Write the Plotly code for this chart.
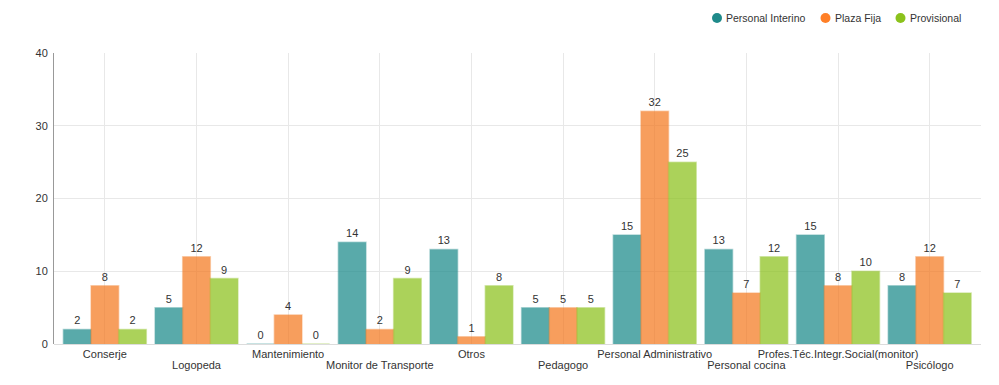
import plotly.graph_objects as go

categories = ["Conserje", "Logopeda", "Mantenimiento", "Monitor de Transporte", "Otros",
              "Pedagogo", "Personal Administrativo", "Personal cocina",
              "Profes.Téc.Integr.Social(monitor)", "Psicólogo"]
interino = [2, 5, 0, 14, 13, 5, 15, 13, 15, 8]
plaza_fija = [8, 12, 4, 2, 1, 5, 32, 7, 8, 12]
provisional = [2, 9, 0, 9, 8, 5, 25, 12, 10, 7]
series_names = ["Personal Interino", "Plaza Fija", "Provisional"]
series_values = [interino, plaza_fija, provisional]
y_ticks = [0, 10, 20, 30, 40]

colors = ["#1a8a8a", "#f47920", "#8bc21c"]
edge_colors = ["rgba(26,138,138,0.45)", "rgba(244,121,32,0.45)", "rgba(139,194,28,0.45)"]
legend_colors = ["#1f8a8a", "#ff7f27", "#8bc21c"]

W, H = 999, 385
ML, MR, MT, MB = 54, 18, 53, 41

xpos = list(range(len(categories)))
fig = go.Figure()
for name, vals, c, ec in zip(series_names, series_values, colors, edge_colors):
    fig.add_trace(go.Bar(
        x=xpos, y=vals, name=name, showlegend=False,
        marker=dict(color=c, opacity=0.72, line=dict(color=ec, width=1.5)),
        text=[str(v) for v in vals], textposition="outside",
        textfont=dict(size=11, color="#333"), cliponaxis=False,
        hoverinfo="skip",
    ))
fig.add_trace(go.Scatter(x=[None], y=[None], xaxis="x2", showlegend=False))

# custom legend (circle + text) in pixel-based paper coordinates
pw, ph = W - ML - MR, H - MT - MB
legend_circle_x = [717, 825.5, 900.5]
legend_y = 18
shapes = []
annotations = []
for name, c, cx in zip(series_names, legend_colors, legend_circle_x):
    r = 5
    shapes.append(dict(type="circle", xref="paper", yref="paper",
                       x0=(cx - r - ML) / pw, x1=(cx + r - ML) / pw,
                       y0=(H - MB - (legend_y + r)) / ph, y1=(H - MB - (legend_y - r)) / ph,
                       fillcolor=c, line=dict(width=0)))
    annotations.append(dict(text=name, xref="paper", yref="paper",
                            x=(cx + 7 - ML) / pw, y=(H - MB - legend_y) / ph,
                            xanchor="left", yanchor="middle", showarrow=False,
                            font=dict(size=10.5, color="#333")))

rng = [-0.555, len(categories) - 1 + 0.56]
even_text = [c if i % 2 == 0 else "" for i, c in enumerate(categories)]
odd_vals = [i for i in xpos if i % 2 == 1]
odd_text = [categories[i] for i in odd_vals]

fig.update_layout(
    width=W, height=H,
    margin=dict(l=ML, r=MR, t=MT, b=MB, autoexpand=False),
    paper_bgcolor="white", plot_bgcolor="white",
    font=dict(family="Liberation Sans, Arial, sans-serif", size=11, color="#333"),
    barmode="group", bargap=0.095, bargroupgap=0,
    showlegend=False,
    shapes=shapes, annotations=annotations,
    xaxis=dict(range=rng, tickmode="array", tickvals=xpos, ticktext=even_text,
               showgrid=True, gridcolor="#e8e8e8", gridwidth=1, zeroline=False,
               showline=False, ticks="", tickfont=dict(size=11, color="#333"),
               ticklabelstandoff=2, automargin=False),
    xaxis2=dict(range=rng, overlaying="x", side="bottom", tickmode="array",
                tickvals=odd_vals, ticktext=odd_text, showgrid=False, zeroline=False,
                showline=False, ticks="", tickfont=dict(size=11, color="#333"),
                ticklabelstandoff=13, automargin=False),
    yaxis=dict(range=[0, 40], tickmode="array", tickvals=y_ticks,
               showgrid=True, gridcolor="#e8e8e8", zeroline=True, zerolinecolor="#dcdcdc",
               zerolinewidth=1, showline=True, linecolor="#999", linewidth=1,
               ticks="", tickfont=dict(size=11, color="#333"), ticklabelstandoff=3,
               automargin=False),
)
fig.write_html("out.html", config={"displayModeBar": False},
               post_script="document.body.style.margin='0';")
